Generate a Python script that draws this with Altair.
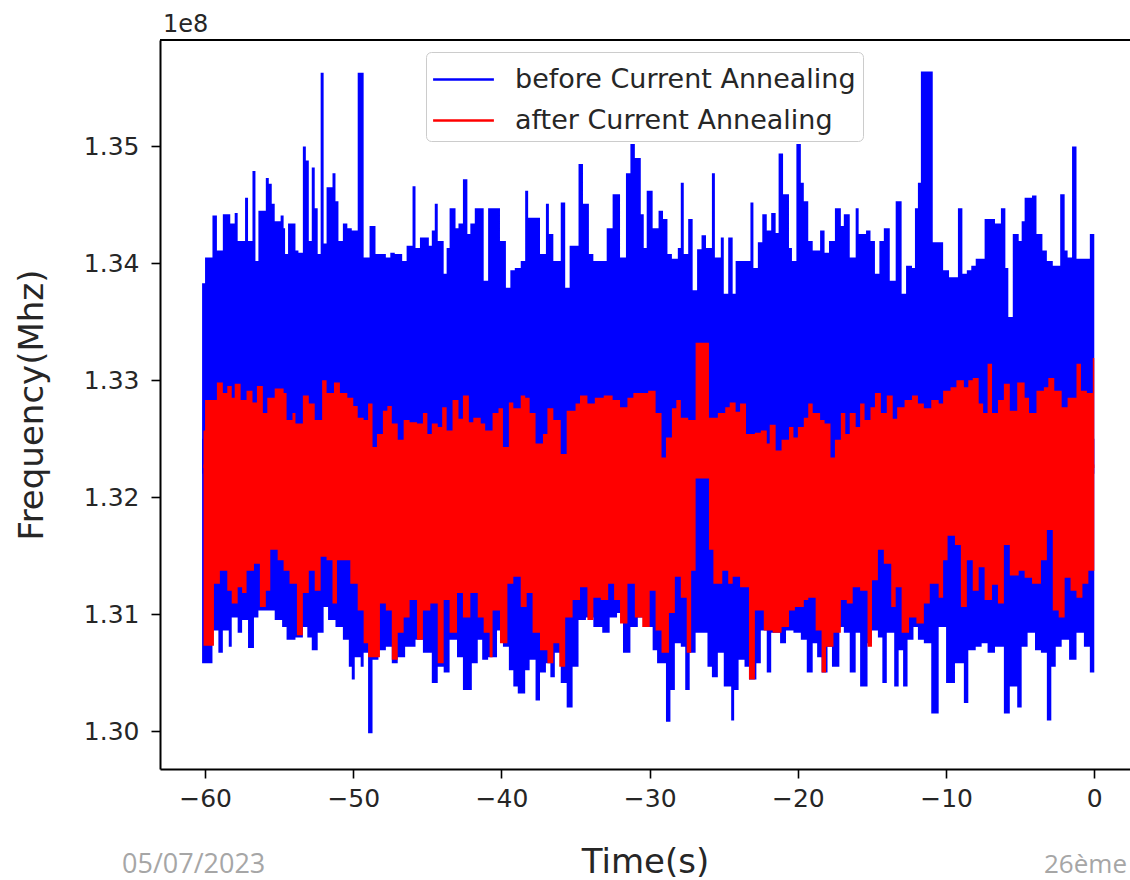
import altair as alt
import pandas as pd

# ---------------- data (frequency in units of 1e8) ----------------
SERIES = ["before Current Annealing", "after Current Annealing"]
COLORS = ["#0000ff", "#ff0000"]

X_TICKS = [-60, -50, -40, -30, -20, -10, 0]
Y_TICKS = [1.30, 1.31, 1.32, 1.33, 1.34, 1.35]
X_DOMAIN = [-63.04, 2.41]
Y_DOMAIN = [1.29675, 1.3591]

# "before" series: upper envelope of the noisy trace
BLUE_TOP_T = [-60.2, -60.0, -59.5, -59.2, -58.8, -58.3, -58.0, -57.8, -57.3, -57.1,
              -56.8, -56.6, -56.4, -55.9, -55.7, -55.5, -55.3, -54.9, -54.7, -54.6,
              -54.4, -53.9, -53.7, -53.4, -53.2, -53.0, -52.8, -52.6, -52.4, -52.2,
              -52.0, -51.8, -51.4, -51.2, -51.0, -50.7, -50.4, -50.1, -49.7, -49.3,
              -48.9, -48.5, -47.8, -47.5, -47.2, -46.7, -46.4, -46.0, -45.8, -45.5,
              -44.9, -44.7, -44.5, -44.3, -43.9, -43.7, -43.5, -43.1, -42.9, -42.6,
              -42.3, -42.1, -41.8, -41.2, -40.9, -40.1, -39.7, -39.4, -39.1, -38.7,
              -38.4, -38.2, -37.4, -37.0, -36.8, -36.5, -36.0, -35.7, -35.4, -34.8,
              -34.5, -34.1, -33.8, -32.9, -32.5, -32.0, -31.6, -31.3, -31.0, -30.6,
              -30.4, -30.2, -29.8, -29.4, -29.1, -28.8, -28.5, -28.1, -27.9, -27.7,
              -27.4, -27.1, -26.8, -26.5, -26.2, -25.8, -25.6, -25.2, -25.0, -24.7,
              -24.4, -24.2, -23.5, -23.2, -23.0, -22.7, -22.4, -22.1, -21.8, -21.5,
              -21.3, -21.0, -20.6, -20.4, -20.1, -19.8, -19.6, -19.3, -19.0, -18.5,
              -18.2, -17.9, -17.5, -17.1, -16.9, -16.5, -16.1, -15.9, -15.4, -15.1,
              -14.8, -14.5, -14.2, -13.8, -13.4, -13.0, -12.7, -12.3, -12.1, -11.9,
              -11.7, -10.9, -10.2, -9.8, -9.2, -8.9, -8.6, -8.3, -8.0, -7.4,
              -6.7, -6.3, -6.0, -5.8, -5.5, -5.1, -4.9, -4.7, -4.2, -3.9,
              -3.5, -3.2, -2.8, -2.3, -2.0, -1.8, -1.5, -1.2, -0.3, 0.0]
BLUE_TOP_V = [1.3383, 1.3405, 1.3441, 1.3411, 1.3442, 1.3434, 1.3443, 1.3419, 1.3456, 1.3419,
              1.3479, 1.3402, 1.3445, 1.3473, 1.3468, 1.3451, 1.3436, 1.3441, 1.3430, 1.3408,
              1.3434, 1.3411, 1.3409, 1.3500, 1.3488, 1.3419, 1.3482, 1.3447, 1.3408, 1.3563,
              1.3417, 1.3465, 1.3477, 1.3453, 1.3419, 1.3434, 1.3430, 1.3428, 1.3563, 1.3405,
              1.3432, 1.3408, 1.3405, 1.3409, 1.3408, 1.3402, 1.3415, 1.3466, 1.3413, 1.3422,
              1.3415, 1.3428, 1.3451, 1.3419, 1.3391, 1.3413, 1.3447, 1.3430, 1.3434, 1.3472,
              1.3425, 1.3434, 1.3447, 1.3385, 1.3447, 1.3419, 1.3379, 1.3394, 1.3396, 1.3402,
              1.3462, 1.3439, 1.3408, 1.3451, 1.3425, 1.3402, 1.3452, 1.3379, 1.3415, 1.3485,
              1.3451, 1.3408, 1.3402, 1.3430, 1.3459, 1.3405, 1.3477, 1.3502, 1.3490, 1.3442,
              1.3413, 1.3462, 1.3430, 1.3445, 1.3438, 1.3408, 1.3404, 1.3413, 1.3469, 1.3408,
              1.3438, 1.3377, 1.3412, 1.3424, 1.3413, 1.3477, 1.3405, 1.3422, 1.3374, 1.3422,
              1.3374, 1.3402, 1.3402, 1.3452, 1.3396, 1.3418, 1.3442, 1.3428, 1.3443, 1.3426,
              1.3494, 1.3459, 1.3413, 1.3402, 1.3502, 1.3469, 1.3453, 1.3419, 1.3411, 1.3428,
              1.3409, 1.3419, 1.3447, 1.3432, 1.3442, 1.3405, 1.3447, 1.3425, 1.3428, 1.3419,
              1.3391, 1.3419, 1.3430, 1.3385, 1.3453, 1.3374, 1.3398, 1.3396, 1.3447, 1.3469,
              1.3564, 1.3418, 1.3394, 1.3388, 1.3447, 1.3391, 1.3394, 1.3398, 1.3404, 1.3438,
              1.3434, 1.3447, 1.3396, 1.3354, 1.3425, 1.3419, 1.3436, 1.3456, 1.3458, 1.3425,
              1.3411, 1.3402, 1.3398, 1.3459, 1.3411, 1.3405, 1.3500, 1.3404, 1.3425, 1.3417]

# "before" series: lower envelope of the noisy trace
BLUE_LOW_T = [-60.2, -59.8, -59.5, -59.1, -58.8, -58.4, -58.2, -57.8, -57.5, -57.1,
              -56.7, -56.4, -55.7, -55.3, -54.8, -54.5, -53.9, -53.4, -53.1, -52.8,
              -52.4, -52.0, -51.7, -51.2, -50.7, -50.3, -50.1, -49.9, -49.5, -49.3,
              -49.0, -48.7, -48.3, -47.8, -47.4, -47.0, -46.5, -45.8, -45.3, -44.7,
              -44.3, -43.9, -43.5, -43.0, -42.6, -42.0, -41.6, -41.3, -40.9, -40.3,
              -39.9, -39.5, -39.2, -38.9, -38.4, -38.1, -37.7, -37.4, -37.0, -36.7,
              -36.4, -36.0, -35.6, -35.2, -34.8, -34.3, -33.8, -33.2, -32.7, -32.2,
              -31.8, -31.3, -30.8, -30.4, -29.8, -29.5, -28.9, -28.6, -28.3, -27.9,
              -27.6, -27.3, -26.9, -26.1, -25.8, -25.4, -25.0, -24.5, -24.3, -24.0,
              -23.6, -23.3, -22.8, -22.5, -22.1, -21.8, -21.2, -20.8, -20.3, -19.8,
              -19.4, -19.0, -18.7, -18.4, -18.0, -17.7, -17.2, -16.9, -16.5, -16.1,
              -15.8, -15.3, -15.0, -14.6, -14.3, -14.0, -13.5, -13.2, -12.9, -12.6,
              -12.2, -11.9, -11.5, -11.0, -10.5, -10.0, -9.4, -8.8, -8.5, -8.0,
              -7.6, -7.2, -6.7, -6.1, -5.7, -5.2, -4.9, -4.5, -4.0, -3.6,
              -3.2, -2.9, -2.6, -2.2, -1.7, -1.2, -0.7, -0.3, 0.0]
BLUE_LOW_V = [1.3058, 1.3058, 1.3086, 1.3067, 1.3086, 1.3072, 1.3097, 1.3084, 1.3095, 1.3071,
              1.3097, 1.3103, 1.3103, 1.3095, 1.3089, 1.3078, 1.3080, 1.3089, 1.3080, 1.3069,
              1.3084, 1.3106, 1.3095, 1.3089, 1.3078, 1.3055, 1.3044, 1.3063, 1.3055, 1.3067,
              1.2998, 1.3061, 1.3069, 1.3072, 1.3058, 1.3063, 1.3072, 1.3078, 1.3067, 1.3041,
              1.3055, 1.3050, 1.3078, 1.3063, 1.3035, 1.3058, 1.3078, 1.3061, 1.3063, 1.3086,
              1.3072, 1.3052, 1.3038, 1.3032, 1.3052, 1.3061, 1.3026, 1.3050, 1.3058, 1.3046,
              1.3067, 1.3041, 1.3020, 1.3055, 1.3095, 1.3097, 1.3089, 1.3084, 1.3097, 1.3101,
              1.3067, 1.3089, 1.3097, 1.3089, 1.3069, 1.3058, 1.3008, 1.3035, 1.3075, 1.3072,
              1.3035, 1.3067, 1.3084, 1.3055, 1.3046, 1.3067, 1.3038, 1.3009, 1.3035, 1.3061,
              1.3055, 1.3044, 1.3058, 1.3086, 1.3050, 1.3084, 1.3075, 1.3086, 1.3084, 1.3078,
              1.3050, 1.3075, 1.3063, 1.3050, 1.3072, 1.3055, 1.3089, 1.3084, 1.3050, 1.3084,
              1.3038, 1.3075, 1.3086, 1.3080, 1.3041, 1.3084, 1.3038, 1.3069, 1.3038, 1.3078,
              1.3089, 1.3078, 1.3075, 1.3015, 1.3089, 1.3041, 1.3058, 1.3024, 1.3069, 1.3072,
              1.3075, 1.3067, 1.3072, 1.3015, 1.3038, 1.3020, 1.3072, 1.3084, 1.3069, 1.3067,
              1.3009, 1.3055, 1.3072, 1.3078, 1.3061, 1.3084, 1.3072, 1.3050, 1.3084]

# "after" series: upper envelope
RED_TOP_T = [-60.1, -60.0, -59.2, -58.8, -58.5, -58.2, -58.0, -57.6, -57.2, -56.8,
             -56.5, -56.1, -55.8, -55.3, -54.7, -54.5, -54.1, -53.9, -53.4, -53.0,
             -52.6, -52.1, -51.8, -51.3, -50.9, -50.4, -50.0, -49.7, -49.3, -49.0,
             -48.7, -48.4, -48.0, -47.7, -47.4, -47.0, -46.6, -46.2, -45.7, -45.3,
             -45.0, -44.7, -44.3, -44.0, -43.7, -43.3, -42.9, -42.6, -42.2, -41.9,
             -41.4, -41.1, -40.6, -40.2, -39.9, -39.5, -39.2, -38.7, -38.4, -38.1,
             -37.7, -37.2, -36.9, -36.5, -36.0, -35.6, -35.0, -34.7, -34.2, -33.7,
             -33.1, -32.5, -32.0, -31.5, -31.1, -30.5, -30.1, -29.6, -29.2, -28.9,
             -28.5, -28.2, -27.9, -27.4, -26.9, -26.0, -25.8, -25.4, -24.9, -24.6,
             -24.2, -23.9, -23.5, -22.9, -22.5, -22.1, -21.9, -21.5, -21.1, -20.6,
             -20.3, -20.0, -19.6, -19.3, -19.0, -18.5, -18.2, -17.8, -17.5, -17.1,
             -16.8, -16.5, -16.1, -15.8, -15.5, -15.1, -14.8, -14.4, -14.0, -13.6,
             -13.3, -12.8, -12.3, -11.9, -11.5, -11.0, -10.5, -10.2, -9.7, -9.3,
             -8.8, -8.5, -8.2, -7.8, -7.5, -7.2, -6.9, -6.5, -6.1, -5.7,
             -5.2, -4.7, -4.4, -3.9, -3.4, -3.1, -2.7, -2.2, -1.8, -1.2,
             -0.9, -0.5, -0.1, 0.0]
RED_TOP_V = [1.3257, 1.3283, 1.3298, 1.3289, 1.3295, 1.3285, 1.3297, 1.3283, 1.3291, 1.3281,
             1.3295, 1.3272, 1.3285, 1.3293, 1.3289, 1.3266, 1.3272, 1.3263, 1.3287, 1.3280,
             1.3266, 1.3300, 1.3289, 1.3298, 1.3289, 1.3285, 1.3278, 1.3268, 1.3266, 1.3280,
             1.3243, 1.3254, 1.3274, 1.3278, 1.3263, 1.3249, 1.3266, 1.3264, 1.3263, 1.3272,
             1.3254, 1.3263, 1.3260, 1.3277, 1.3257, 1.3283, 1.3267, 1.3287, 1.3264, 1.3268,
             1.3263, 1.3257, 1.3272, 1.3276, 1.3243, 1.3281, 1.3276, 1.3287, 1.3285, 1.3272,
             1.3246, 1.3254, 1.3276, 1.3266, 1.3237, 1.3274, 1.3280, 1.3287, 1.3280, 1.3285,
             1.3287, 1.3283, 1.3277, 1.3285, 1.3289, 1.3289, 1.3291, 1.3272, 1.3234, 1.3251,
             1.3276, 1.3283, 1.3268, 1.3266, 1.3332, 1.3268, 1.3268, 1.3272, 1.3277, 1.3281,
             1.3273, 1.3280, 1.3254, 1.3255, 1.3257, 1.3246, 1.3262, 1.3240, 1.3249, 1.3260,
             1.3251, 1.3260, 1.3268, 1.3280, 1.3272, 1.3266, 1.3263, 1.3234, 1.3249, 1.3272,
             1.3254, 1.3272, 1.3260, 1.3280, 1.3266, 1.3277, 1.3289, 1.3272, 1.3287, 1.3267,
             1.3277, 1.3283, 1.3287, 1.3280, 1.3276, 1.3283, 1.3280, 1.3291, 1.3294, 1.3300,
             1.3294, 1.3300, 1.3302, 1.3280, 1.3272, 1.3314, 1.3272, 1.3283, 1.3297, 1.3274,
             1.3298, 1.3285, 1.3272, 1.3291, 1.3294, 1.3302, 1.3291, 1.3277, 1.3285, 1.3314,
             1.3291, 1.3289, 1.3319, 1.3319]

# "after" series: lower envelope
RED_LOW_T = [-60.1, -59.6, -59.4, -59.0, -58.5, -58.2, -57.8, -57.5, -57.2, -56.7,
             -56.3, -55.9, -55.6, -55.1, -54.7, -54.3, -53.8, -53.4, -53.0, -52.6,
             -52.2, -51.8, -51.4, -51.1, -50.7, -50.2, -49.7, -49.3, -49.0, -48.7,
             -48.2, -47.8, -47.4, -47.0, -46.6, -46.2, -45.7, -45.3, -44.8, -44.3,
             -43.9, -43.5, -43.0, -42.6, -42.1, -41.6, -41.2, -40.8, -40.6, -40.1,
             -39.6, -39.2, -38.7, -38.3, -37.9, -37.4, -36.9, -36.5, -36.1, -35.7,
             -35.2, -34.7, -34.2, -33.8, -33.3, -32.8, -32.4, -32.0, -31.5, -31.0,
             -30.5, -30.0, -29.6, -29.2, -28.7, -28.3, -27.9, -27.5, -27.2, -26.9,
             -26.0, -25.7, -25.1, -24.7, -24.4, -23.9, -23.3, -22.9, -22.3, -21.7,
             -21.1, -20.6, -20.2, -19.6, -19.3, -18.8, -18.4, -18.1, -17.6, -17.1,
             -16.7, -16.3, -15.8, -15.3, -15.0, -14.6, -14.2, -13.7, -13.4, -13.0,
             -12.5, -12.0, -11.5, -11.1, -10.5, -10.2, -9.9, -9.4, -9.0, -8.6,
             -8.2, -7.8, -7.4, -6.9, -6.5, -6.1, -5.7, -5.1, -4.7, -4.2,
             -3.6, -3.2, -2.8, -2.4, -2.0, -1.6, -1.2, -0.8, -0.4, 0.0]
RED_LOW_V = [1.3073, 1.3073, 1.3126, 1.3137, 1.3120, 1.3109, 1.3123, 1.3118, 1.3137, 1.3143,
             1.3106, 1.3120, 1.3155, 1.3146, 1.3137, 1.3126, 1.3082, 1.3118, 1.3137, 1.3120,
             1.3149, 1.3146, 1.3109, 1.3146, 1.3146, 1.3126, 1.3103, 1.3075, 1.3063, 1.3063,
             1.3109, 1.3103, 1.3061, 1.3084, 1.3097, 1.3112, 1.3078, 1.3103, 1.3109, 1.3058,
             1.3112, 1.3084, 1.3118, 1.3097, 1.3118, 1.3097, 1.3084, 1.3063, 1.3103, 1.3075,
             1.3126, 1.3132, 1.3106, 1.3118, 1.3084, 1.3069, 1.3058, 1.3075, 1.3055, 1.3097,
             1.3112, 1.3123, 1.3095, 1.3114, 1.3112, 1.3126, 1.3112, 1.3092, 1.3126, 1.3097,
             1.3089, 1.3120, 1.3086, 1.3067, 1.3101, 1.3132, 1.3114, 1.3067, 1.3137, 1.3216,
             1.3155, 1.3126, 1.3137, 1.3126, 1.3132, 1.3123, 1.3044, 1.3103, 1.3086, 1.3084,
             1.3089, 1.3103, 1.3106, 1.3112, 1.3114, 1.3086, 1.3050, 1.3072, 1.3084, 1.3112,
             1.3109, 1.3123, 1.3120, 1.3072, 1.3129, 1.3155, 1.3143, 1.3106, 1.3123, 1.3084,
             1.3097, 1.3092, 1.3109, 1.3126, 1.3114, 1.3146, 1.3167, 1.3159, 1.3106, 1.3146,
             1.3120, 1.3140, 1.3112, 1.3125, 1.3109, 1.3159, 1.3133, 1.3137, 1.3131, 1.3126,
             1.3146, 1.3172, 1.3103, 1.3097, 1.3131, 1.3120, 1.3114, 1.3126, 1.3137, 1.3133]

OFFSET_TEXT = "1e8"
X_TITLE = "Time(s)"
Y_TITLE = "Frequency(Mhz)"
FOOTER_LEFT = "05/07/2023"
FOOTER_RIGHT = "26ème"

# ---------------- chart ----------------
FONT = "DejaVu Sans"
xs = alt.Scale(domain=X_DOMAIN, nice=False, zero=False)
ys = alt.Scale(domain=Y_DOMAIN, nice=False, zero=False)

x_axis = alt.Axis(orient="bottom", values=X_TICKS, format="d", title=X_TITLE,
                  labelPadding=8, titlePadding=34)
y_axis = alt.Axis(orient="left", values=Y_TICKS, format=".2f", title=Y_TITLE,
                  labelPadding=12, titlePadding=34)


def enc_x():
    return alt.X("t:Q", scale=xs, axis=x_axis)


def enc_y():
    return alt.Y("v:Q", scale=ys, axis=y_axis)


def envelope(t, v, base, color):
    df = pd.DataFrame({"t": t, "v": v})
    return alt.Chart(df).mark_area(interpolate="step-after", color=color).encode(
        x=enc_x(), y=enc_y(), y2=alt.datum(base),
    )


blue_top = envelope(BLUE_TOP_T, BLUE_TOP_V, 1.322, COLORS[0])
blue_low = envelope(BLUE_LOW_T, BLUE_LOW_V, 1.325, COLORS[0])
red_top = envelope(RED_TOP_T, RED_TOP_V, 1.3225, COLORS[1])
red_low = envelope(RED_LOW_T, RED_LOW_V, 1.3228, COLORS[1])

# frame line along the top of the plot area (the right side is cropped in the reference)
frame_df = pd.DataFrame({"t": [X_DOMAIN[0]], "t2": [X_DOMAIN[1]], "v": [Y_DOMAIN[1]]})
top_frame = alt.Chart(frame_df).mark_rule(color="#000000", strokeWidth=2).encode(
    x=enc_x(), x2="t2:Q", y=enc_y(),
)

legend_df = pd.DataFrame({
    "t": [BLUE_TOP_T[0], RED_TOP_T[0]],
    "v": [BLUE_TOP_V[0], RED_TOP_V[0]],
    "series": SERIES,
})
legend_layer = alt.Chart(legend_df).mark_line(strokeWidth=2.5).encode(
    x=enc_x(),
    y=enc_y(),
    color=alt.Color(
        "series:N",
        scale=alt.Scale(domain=SERIES, range=COLORS),
        legend=alt.Legend(
            title=None, orient="none", legendX=266, legendY=12,
            symbolType="M-1.6,0L1.6,0", symbolSize=1444, symbolStrokeWidth=2.5,
            symbolOffset=10,
            labelFont=FONT, labelFontSize=27, labelColor="#262626",
            labelOffset=31, labelLimit=600, rowPadding=7, padding=7,
            fillColor="rgba(255,255,255,0.8)", strokeColor="#cccccc",
            cornerRadius=5,
        ),
    ),
)

offset_text = alt.Chart(pd.DataFrame({"txt": [OFFSET_TEXT]})).mark_text(
    align="left", baseline="alphabetic", font=FONT, fontSize=24, color="#262626"
).encode(x=alt.value(3), y=alt.value(-8), text="txt:N")

footer_left = alt.Chart(pd.DataFrame({"txt": [FOOTER_LEFT]})).mark_text(
    align="left", baseline="alphabetic", font="Open Sans", fontSize=27, color="#a6a6a6"
).encode(x=alt.value(-38), y=alt.value(833), text="txt:N")

footer_right = alt.Chart(pd.DataFrame({"txt": [FOOTER_RIGHT]})).mark_text(
    align="left", baseline="alphabetic", font="Open Sans", fontSize=26, color="#a6a6a6"
).encode(x=alt.value(884), y=alt.value(833), text="txt:N")

chart = alt.layer(
    blue_top, blue_low, red_top, red_low, top_frame, legend_layer,
    offset_text, footer_left, footer_right,
).properties(
    width=970, height=729,
    autosize=alt.AutoSizeParams(type="none"),
    padding={"left": 160, "top": 40, "right": 0, "bottom": 111},
    background="white",
).configure_view(
    strokeWidth=0
).configure_axis(
    labelFont=FONT, labelFontSize=25, labelColor="#262626",
    titleFont=FONT, titleFontSize=34, titleFontWeight="normal", titleColor="#262626",
    domainColor="#000000", domainWidth=2, tickColor="#000000", tickWidth=1.6,
    tickSize=9, grid=False,
)

chart.save("out.html", embed_options={"renderer": "svg", "actions": False})
